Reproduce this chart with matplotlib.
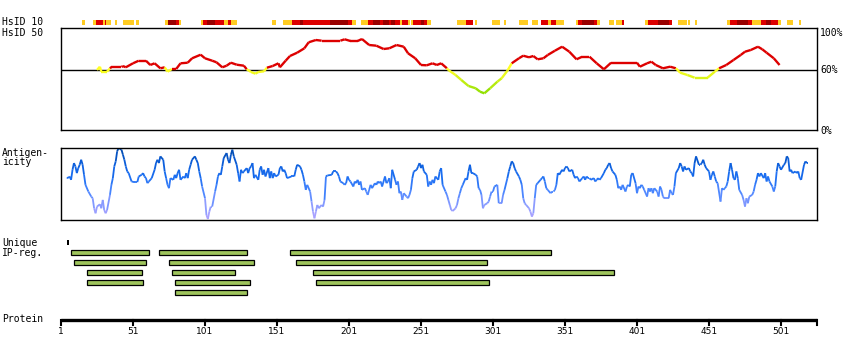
import matplotlib
matplotlib.use("Agg")
import matplotlib.pyplot as plt
from matplotlib.collections import LineCollection
from matplotlib.colors import LinearSegmentedColormap, to_rgb
import numpy as np

# ---------------- data ----------------
PROTEIN_LENGTH = 526
tick_positions = [1, 51, 101, 151, 201, 251, 301, 351, 401, 451, 501]
pct_ticks = [0, 60, 100]
pct_labels = ["0%", "60%", "100%"]
hsid_threshold = 60

# HsID 10 conservation strip: (start, end, level) 0=low, 1=mid, 2=high
hsid10_segments = [
    (15.5, 17.5, 0), (23, 25, 0), (25, 30, 1), (30, 31.5, 0), (31.5, 32.5, 1),
    (32.5, 35.5, 0), (38.5, 40, 0), (44, 51.5, 0), (53, 55, 0),
    (73, 75, 0), (75, 81, 2), (81, 83, 1), (83, 84.5, 0),
    (98, 99.5, 0), (99.5, 102.5, 1), (102.5, 108, 2), (108, 114, 1), (114, 117, 0),
    (117, 119, 1), (119, 123, 0), (147.5, 150.5, 0),
    (155, 161.5, 0), (161.5, 167, 1), (167, 169, 2), (169, 188, 1), (188, 200.5, 2),
    (200.5, 203, 1), (203, 206, 0),
    (209.5, 214.5, 0), (214.5, 217.5, 1), (217.5, 222.5, 2), (222.5, 224.5, 1),
    (224.5, 228.5, 2), (228.5, 230.5, 1), (230.5, 233, 2), (233, 236.5, 1),
    (236.5, 237.5, 0), (237.5, 242, 1), (242, 243.5, 0), (244, 245.5, 0),
    (245.5, 251, 1), (251, 253, 2), (253, 255, 1), (255, 258, 0),
    (276, 282, 0), (282, 287, 1), (288.5, 290, 0), (300, 306, 0), (308.5, 310, 0),
    (319, 325, 0), (328, 332, 0), (334, 339, 1), (339, 341, 0), (341, 345, 1),
    (345, 350, 0), (358.5, 360, 0), (360, 363, 1), (363, 371, 2), (371, 373, 1),
    (373, 375, 0), (381.5, 385, 0), (386.5, 390.5, 0), (390.5, 392, 1),
    (406.5, 408.5, 0), (408.5, 415.5, 1), (415.5, 423, 2), (423, 425, 1),
    (429.5, 435.5, 0), (436.5, 438, 0), (441, 443, 0),
    (463.5, 465.5, 0), (465.5, 470.5, 1), (470.5, 478, 2), (478, 481, 1),
    (481, 487, 0), (487, 490.5, 1), (490.5, 494, 2), (494, 499, 1), (499, 501, 0),
    (505, 509.5, 0), (513.5, 515, 0),
]
hsid10_colors = ["#FFCC22", "#DD0000", "#990000"]

# HsID 50 identity curve (percent)
hsid50_res = [26, 28, 29, 33, 35, 36, 43, 44, 46, 51, 55, 60, 63, 66, 70, 73, 75, 78, 81, 84,
              89, 92, 98, 101, 106, 109, 113, 116, 119, 123, 128, 130, 133, 136, 138, 142, 144,
              148, 152, 153, 157, 160, 165, 170, 173, 178, 182, 195, 198, 202, 207, 210, 215,
              220, 225, 229, 234, 239, 242, 247, 251, 255, 259, 262, 265, 269, 270, 275, 279,
              284, 289, 292, 295, 299, 304, 307, 311, 314, 319, 322, 326, 329, 332, 336, 339,
              344, 349, 354, 359, 363, 368, 373, 378, 383, 386, 401, 403, 408, 411, 414, 419,
              424, 428, 431, 436, 441, 450, 455, 458, 463, 468, 473, 476, 480, 485, 488, 491,
              496, 500]
hsid50_val = [60, 63.3, 58.3, 58.3, 61.7, 63, 63, 64, 62.7, 66.7, 69.3, 69.3, 65, 66.7, 61.7,
              62.7, 58.3, 61, 61, 66.7, 67.3, 71.7, 75.3, 71.7, 69.3, 67.7, 62.7, 64.3, 67.3,
              65.3, 64.3, 60.7, 58, 56.3, 58, 58.7, 62.3, 64, 66.7, 62.7, 69.3, 74, 77.3, 81.7,
              87.7, 90, 89.3, 89.3, 90.7, 89, 89, 91, 85, 84.3, 81, 81.7, 85, 83.3, 76.7, 71.7,
              65, 64.7, 66.7, 65, 66.7, 61.7, 60, 55, 50, 44, 41.7, 38.3, 36.7, 41.7, 48.3, 51.7,
              59.3, 66.7, 71.7, 74.3, 72.7, 74, 70.7, 71.7, 75, 79.3, 83.3, 78.3, 70.7, 73.3,
              73.3, 66.7, 60.7, 67.3, 67.3, 67.3, 63.3, 66.7, 68.3, 65, 61.7, 63.3, 61.7, 57.3,
              55, 52.3, 52.3, 58.3, 61.7, 65, 70, 75, 78.3, 80, 83.3, 80.7, 77.3, 71.7, 65]

# Antigenicity profile (relative score)
antigen_res = [5, 6, 7, 8, 9, 10, 11, 12, 13, 14, 15, 16, 17, 18, 20, 22, 23, 24, 25, 26, 28, 29,
               30, 31, 32, 33, 35, 36, 37, 38, 39, 40, 41, 43, 44, 45, 46, 47, 48, 50, 52, 54, 55,
               57, 58, 59, 60, 61, 62, 64, 66, 67, 68, 69, 70, 72, 73, 74, 75, 76, 77, 79, 80, 81,
               82, 83, 84, 86, 87, 88, 89, 90, 91, 92, 94, 95, 96, 97, 98, 99, 101, 102, 103, 104,
               105, 106, 108, 109, 110, 111, 112, 113, 114, 116, 117, 118, 119, 120, 121, 123,
               124, 125, 126, 127, 128, 130, 131, 132, 133, 134, 135, 136, 138, 139, 140, 141,
               142, 143, 145, 146, 147, 148, 149, 150, 152, 153, 154, 155, 156, 157, 158, 161,
               163, 164, 165, 167, 168, 169, 170, 171, 172, 174, 175, 176, 177, 178, 179, 180,
               182, 183, 184, 185, 186, 189, 190, 192, 193, 194, 195, 197, 198, 199, 200, 201,
               202, 204, 205, 206, 207, 208, 209, 210, 212, 213, 214, 215, 216, 217, 219, 220,
               221, 222, 223, 224, 226, 227, 228, 229, 230, 231, 233, 234, 235, 236, 237, 238,
               239, 241, 242, 243, 244, 245, 246, 248, 249, 250, 251, 252, 253, 255, 256, 257,
               258, 259, 260, 261, 263, 264, 265, 266, 268, 269, 270, 271, 272, 273, 275, 276,
               277, 278, 279, 280, 282, 283, 284, 285, 286, 287, 289, 290, 291, 292, 293, 294,
               295, 297, 298, 299, 300, 301, 302, 304, 305, 307, 308, 309, 311, 312, 313, 314,
               315, 316, 317, 319, 320, 321, 322, 323, 324, 326, 327, 328, 329, 330, 331, 332,
               334, 335, 336, 337, 338, 339, 341, 342, 343, 344, 345, 346, 347, 349, 350, 351,
               352, 353, 354, 356, 357, 358, 359, 360, 361, 363, 364, 365, 366, 367, 368, 369,
               371, 372, 373, 374, 375, 376, 378, 379, 380, 381, 382, 383, 384, 386, 387, 388,
               389, 390, 391, 393, 394, 395, 396, 397, 398, 400, 401, 402, 403, 404, 405, 406,
               408, 409, 410, 411, 412, 413, 415, 416, 417, 418, 419, 420, 422, 423, 424, 425,
               426, 427, 428, 430, 431, 432, 433, 434, 435, 437, 438, 439, 440, 441, 442, 444,
               445, 446, 447, 448, 449, 451, 452, 453, 454, 455, 456, 457, 459, 460, 461, 462,
               463, 464, 465, 466, 467, 468, 469, 470, 471, 472, 474, 475, 476, 477, 478, 479,
               481, 482, 483, 484, 485, 486, 487, 489, 490, 491, 492, 493, 495, 496, 497, 498,
               499, 500, 501, 503, 504, 505, 506, 507, 508, 509, 511, 512, 513, 514, 515, 517,
               518, 519, 520]
antigen_val = [127, 125, 130, 120, 150, 170, 160, 140, 155, 165, 180, 165, 135, 105, 85, 70, 65,
               35, 20, 40, 47, 35, 60, 30, 20, 30, 75, 105, 125, 160, 175, 205, 215, 210, 195,
               180, 160, 145, 140, 115, 113, 113, 130, 135, 140, 130, 125, 110, 115, 125, 150,
               170, 180, 170, 190, 180, 145, 125, 105, 95, 125, 120, 135, 125, 140, 150, 120,
               130, 125, 140, 125, 150, 165, 180, 190, 180, 170, 145, 125, 100, 65, 15, 3, 25,
               40, 40, 85, 105, 130, 140, 135, 160, 185, 200, 180, 170, 195, 210, 190, 165, 140,
               115, 150, 140, 145, 155, 140, 155, 160, 170, 125, 135, 120, 150, 160, 135, 150,
               130, 155, 125, 145, 125, 140, 130, 135, 155, 160, 145, 150, 140, 125, 130, 130,
               150, 165, 160, 150, 135, 115, 90, 105, 85, 55, 25, 5, 25, 45, 35, 45, 40, 60, 130,
               133, 135, 145, 145, 140, 130, 115, 110, 105, 110, 130, 120, 115, 100, 115, 110,
               120, 105, 115, 90, 95, 85, 75, 90, 105, 95, 110, 105, 115, 110, 115, 100, 130, 110,
               115, 125, 95, 150, 120, 105, 115, 80, 85, 60, 80, 70, 65, 75, 90, 125, 145, 150,
               160, 170, 155, 165, 145, 135, 100, 115, 105, 120, 110, 130, 120, 145, 155, 105,
               85, 75, 60, 45, 30, 27, 35, 45, 65, 80, 95, 105, 125, 120, 145, 165, 140, 140, 135,
               130, 95, 90, 75, 35, 45, 50, 55, 70, 85, 85, 100, 105, 50, 50, 75, 90, 125, 145,
               160, 175, 170, 155, 145, 130, 120, 105, 65, 50, 45, 35, 25, 10, 20, 65, 105, 110,
               120, 125, 130, 115, 95, 90, 80, 85, 85, 90, 105, 140, 135, 150, 145, 155, 160, 155,
               145, 150, 135, 125, 130, 125, 115, 125, 130, 120, 130, 125, 125, 120, 125, 115,
               120, 125, 120, 125, 140, 150, 155, 165, 170, 155, 145, 135, 120, 95, 100, 90, 105,
               85, 100, 105, 100, 135, 140, 110, 80, 100, 95, 105, 100, 90, 70, 95, 85, 95, 80,
               95, 85, 70, 100, 90, 70, 65, 65, 65, 90, 80, 75, 100, 140, 155, 170, 160, 145, 160,
               150, 155, 145, 140, 130, 170, 190, 165, 165, 170, 180, 165, 155, 145, 120, 135,
               145, 130, 115, 110, 55, 95, 90, 95, 100, 115, 145, 170, 150, 125, 120, 145, 125,
               90, 75, 60, 40, 65, 50, 70, 75, 85, 105, 120, 140, 130, 140, 125, 140, 115, 130,
               115, 100, 85, 100, 145, 170, 160, 150, 165, 170, 190, 185, 145, 150, 140, 145, 140,
               145, 125, 120, 165, 175, 170, 170]
antigen_max = 215

# Unique IP regions
unique_regions = [(5, 6.5)]
ip_rows = [
    [(8, 62), (69, 130), (160, 341)],
    [(10, 60), (76, 135), (164, 297)],
    [(19, 57), (78, 122), (176, 385)],
    [(19, 58), (80, 132), (178, 298)],
    [(80, 130)],
]

# ---------------- layout helpers ----------------
W, H = 850, 360
fig = plt.figure(figsize=(W / 100, H / 100), dpi=100)
X0, X1 = 61, 817


def add_ax(y0, y1, x0=X0, x1=X1):
    ax = fig.add_axes([x0 / W, 1 - y1 / H, (x1 - x0) / W, (y1 - y0) / H])
    ax.set_xlim(1, PROTEIN_LENGTH)
    ax.set_xticks([])
    ax.set_yticks([])
    return ax


def hide(ax):
    for s in ax.spines.values():
        s.set_visible(False)
    ax.patch.set_alpha(0)


label_kw = dict(family="DejaVu Sans Mono", fontsize=7, va="center", ha="left", color="black")


def flabel(x, y, s, **kw):
    d = dict(label_kw)
    d.update(kw)
    fig.text(x / W, 1 - y / H, s, **d)


# ---------------- HsID 10 strip ----------------
ax10 = add_ax(19.5, 25)
hide(ax10)
ax10.set_ylim(0, 1)
for s, e, lev in hsid10_segments:
    ax10.barh(0.5, e - s, left=s, height=1, color=hsid10_colors[lev], linewidth=0)

# ---------------- HsID 50 panel ----------------
ax50 = add_ax(28, 130)
ax50.set_ylim(0, 102)
for s in ax50.spines.values():
    s.set_linewidth(1.0)
ax50.axhline(hsid_threshold, color="black", lw=1.0, zorder=1)

low_hi = np.array(to_rgb("#FFFF22"))
low_lo = np.array(to_rgb("#88DD00"))
pts = np.column_stack([hsid50_res, hsid50_val])
segs = np.stack([pts[:-1], pts[1:]], axis=1)
cols = []
for a, b in zip(hsid50_val[:-1], hsid50_val[1:]):
    if min(a, b) >= hsid_threshold + 0.5:
        cols.append(to_rgb("#DD0000"))
    else:
        t = np.clip((hsid_threshold - (a + b) / 2) / 24, 0, 1)
        cols.append(tuple(low_hi * (1 - t) + low_lo * t))
ax50.add_collection(LineCollection(segs, colors=cols, linewidths=1.7, capstyle="butt", zorder=2))

# ---------------- Antigenicity panel ----------------
axa = add_ax(148, 220)
axa.set_ylim(0, antigen_max)
for s in axa.spines.values():
    s.set_linewidth(1.0)
cmap = LinearSegmentedColormap.from_list(
    "ag", ["#B4A4FF", "#8C9CFF", "#4A86FF", "#1A6EF2", "#0A5CD8", "#0048A8"])
apts = np.column_stack([antigen_res, antigen_val])
asegs = np.stack([apts[:-1], apts[1:]], axis=1)
amid = (np.array(antigen_val[:-1]) + np.array(antigen_val[1:])) / 2
acols = cmap(np.clip(amid / antigen_max, 0, 1))
axa.add_collection(LineCollection(asegs, colors=acols, linewidths=1.3, zorder=2))

# ---------------- IP regions ----------------
axi = add_ax(237.5, 297.5)
hide(axi)
axi.set_ylim(len(ip_rows) + 0.5, -0.5)
for s, e in unique_regions:
    axi.barh(0, e - s, left=s, height=0.5, color="black", linewidth=0)
for row, bars in enumerate(ip_rows, start=1):
    for s, e in bars:
        axi.barh(row, e - s, left=s, height=0.45, color="#9EC45C",
                 edgecolor="black", linewidth=0.9)

# ---------------- Protein axis ----------------
axp = add_ax(310, 340)
hide(axp)
axp.set_ylim(30, 0)
axp.plot([1, PROTEIN_LENGTH], [9.5, 9.5], color="black", lw=2.4, solid_capstyle="butt",
         clip_on=False)
for t in tick_positions + [PROTEIN_LENGTH]:
    axp.plot([t, t], [9.5, 14.5], color="black", lw=1.5, clip_on=False)
for t in tick_positions:
    axp.text(t, 21, str(t), ha="center", va="center", fontsize=6.5,
             family="DejaVu Sans", clip_on=False)

# ---------------- labels ----------------
flabel(2, 22, "HsID 10")
flabel(2, 33, "HsID 50")
flabel(2, 153, "Antigen-")
flabel(2, 162.5, "icity")
flabel(2, 242.5, "Unique")
flabel(2, 252.5, "IP-reg.")
flabel(2, 319.5, "Protein")
pct_y = {100: 32.5, 60: 70, 0: 131}
for v, s in zip(pct_ticks, pct_labels):
    flabel(820, pct_y[v], s)

fig.savefig("out.png", dpi=100)
